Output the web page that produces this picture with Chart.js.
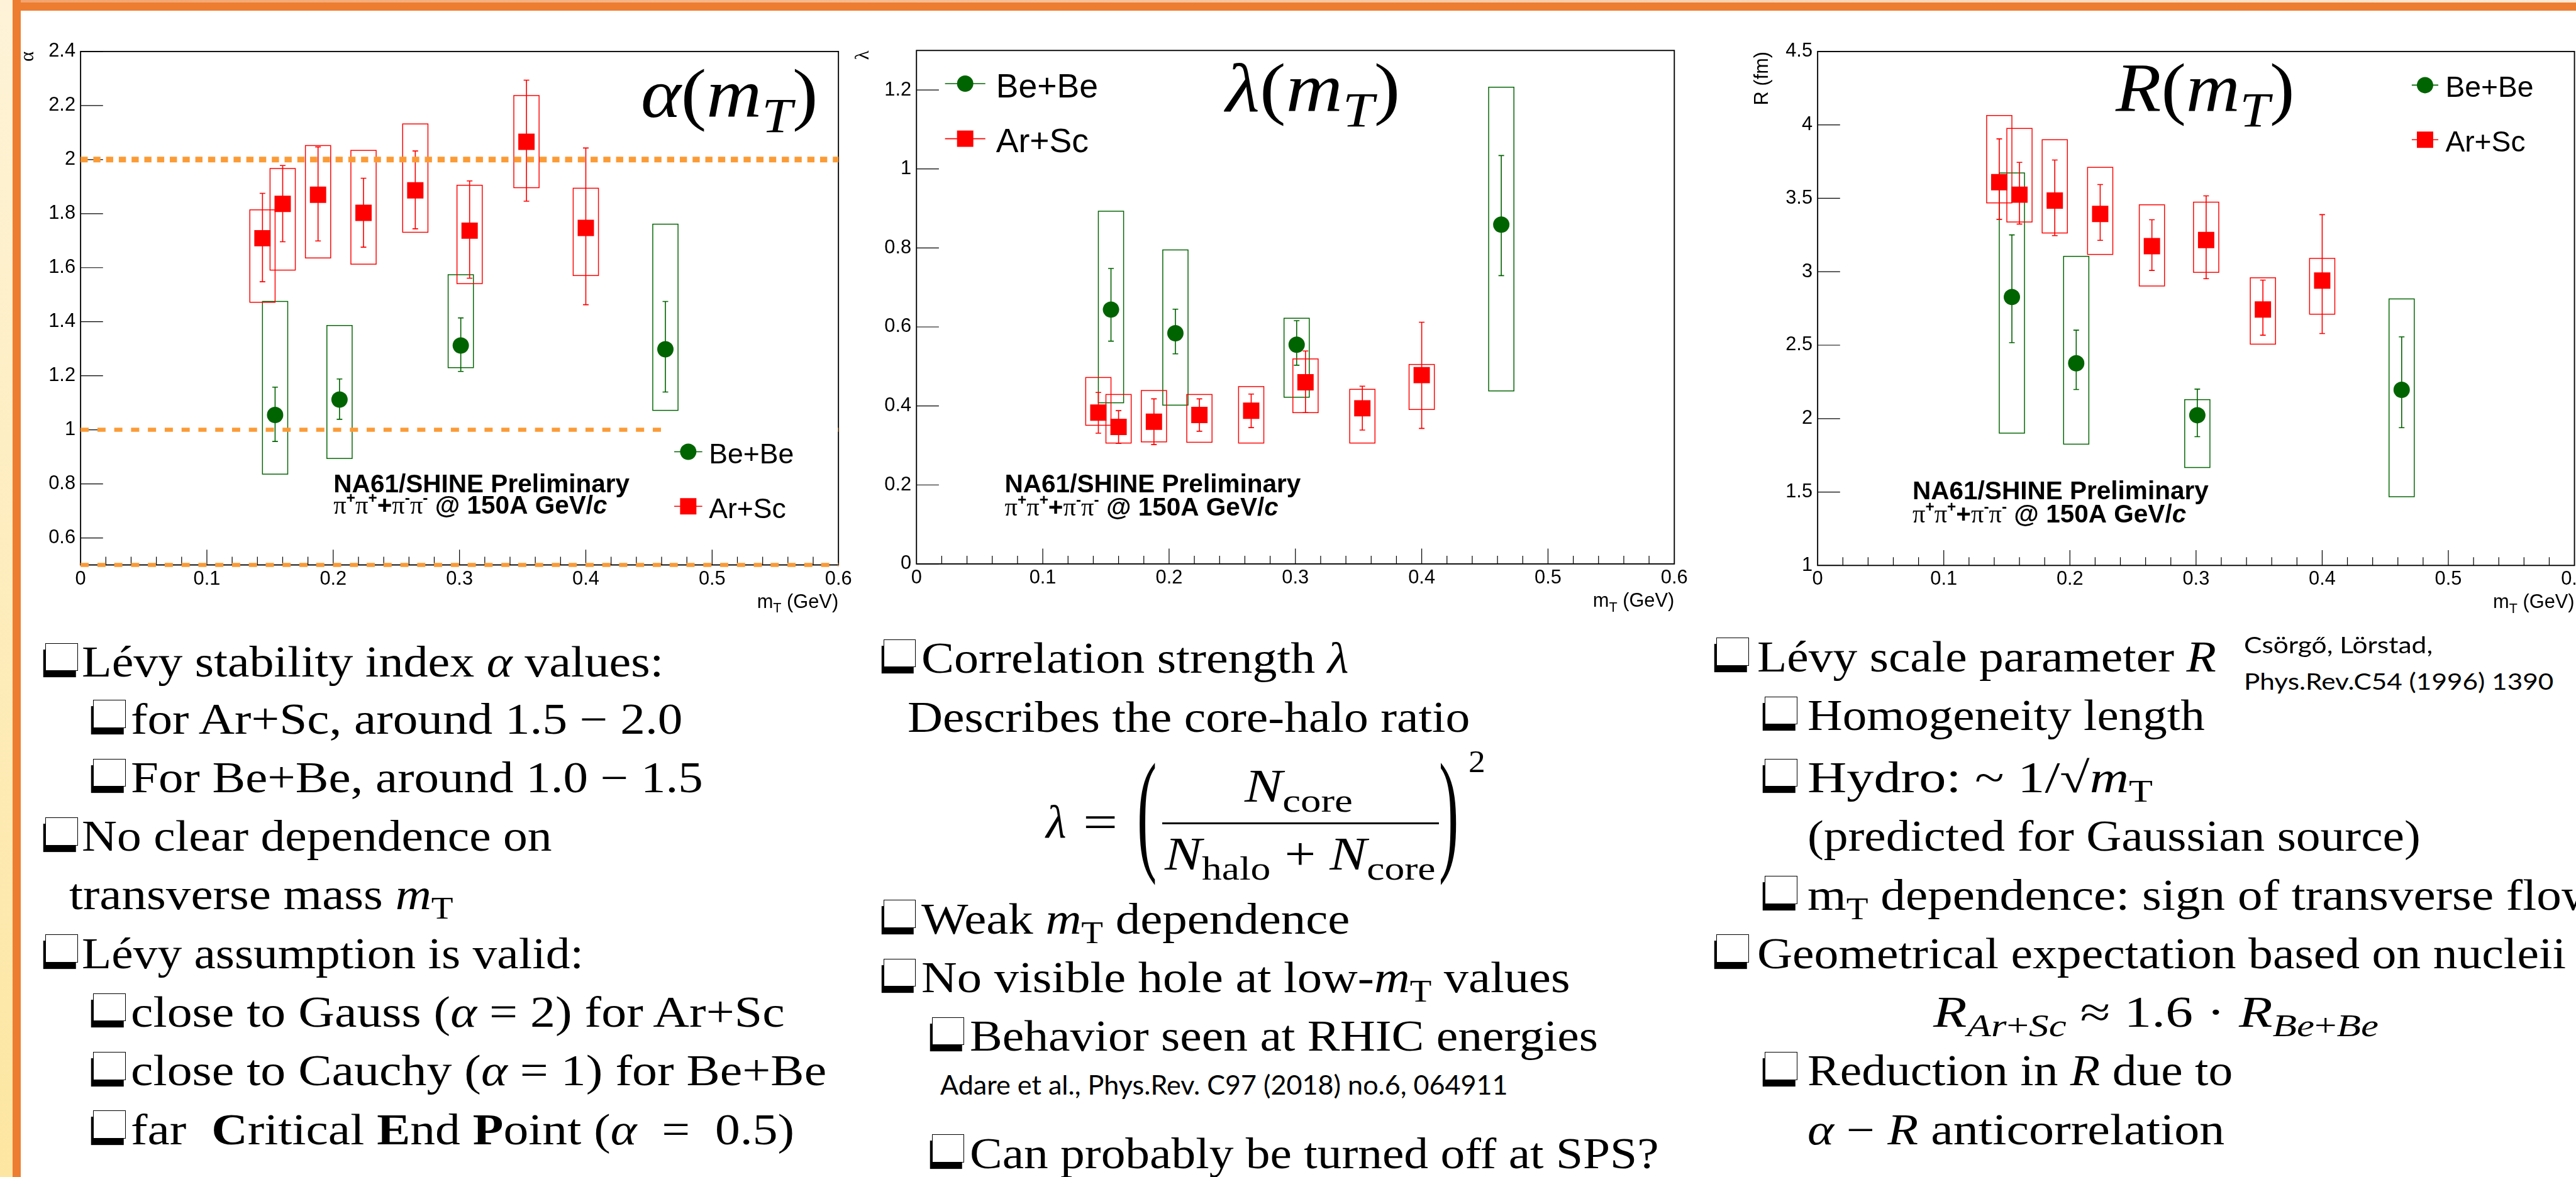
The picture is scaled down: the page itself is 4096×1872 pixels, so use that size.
<!DOCTYPE html>
<html>
<head>
<meta charset="utf-8">
<title>Lévy parameters vs mT</title>
<script src="https://cdn.jsdelivr.net/npm/chart.js@4.4.1/dist/chart.umd.min.js"></script>
<style>
  html, body { margin: 0; padding: 0; background: #fff; overflow: hidden; }
  #slide { position: relative; width: 4096px; height: 1872px; overflow: hidden; background: #fff; }
  #slide canvas { position: absolute; }
  .deco { position: absolute; }
  .t { position: absolute; white-space: nowrap; line-height: 1; color: #000;
       font-family: "Liberation Serif", "Times New Roman", serif; transform-origin: 0 0; }
  .t sub { font-size: 0.72em; vertical-align: -0.3em; line-height: 0; }
  .t .bl { display: inline-block; width: 0; height: 0; vertical-align: baseline; }
  .t.cite { font-family: Lato, "Noto Sans", sans-serif; }
  .box { position: absolute; box-sizing: border-box; background: #fff; border: 1px solid #000; }
  .rule { position: absolute; background: #000; }
</style>
</head>
<body>
<div id="slide"></div>
<script>
const S = 4096 / 5051;          // reference pixels -> page pixels
const px = v => v * S;

// ---------- data ----------
const mT_BeBe = [0.154, 0.205, 0.301, 0.463];
const mT_ArSc = [0.144, 0.160, 0.188, 0.224, 0.265, 0.308, 0.353, 0.400];
const series_names = ['Be+Be', 'Ar+Sc'];

const alpha_BeBe = [1.055, 1.112, 1.312, 1.298];
const alpha_BeBe_stat = [[0.957, 1.158], [1.039, 1.188], [1.216, 1.414], [1.140, 1.475]];
const alpha_BeBe_sys = [[0.836, 1.475], [0.894, 1.386], [1.230, 1.574], [1.072, 1.761]];
const alpha_ArSc = [1.709, 1.836, 1.870, 1.803, 1.886, 1.737, 2.066, 1.747];
const alpha_ArSc_stat = [[1.548, 1.875], [1.696, 1.978], [1.699, 2.047], [1.676, 1.931],
                         [1.744, 2.032], [1.561, 1.921], [1.846, 2.294], [1.463, 2.043]];
const alpha_ArSc_sys = [[1.472, 1.814], [1.591, 1.967], [1.636, 2.052], [1.613, 2.034],
                        [1.731, 2.132], [1.541, 1.905], [1.896, 2.237], [1.571, 1.894]];
const alpha_refLevels = [2, 1, 0.5];   // Gauss, Cauchy, critical end point

const lambda_BeBe = [0.644, 0.584, 0.555, 0.859];
const lambda_BeBe_stat = [[0.564, 0.748], [0.532, 0.645], [0.503, 0.616], [0.730, 1.034]];
const lambda_BeBe_sys = [[0.408, 0.893], [0.402, 0.795], [0.422, 0.622], [0.438, 1.207]];
const lambda_ArSc = [0.383, 0.347, 0.360, 0.377, 0.388, 0.460, 0.394, 0.478];
const lambda_ArSc_stat = [[0.331, 0.434], [0.305, 0.388], [0.302, 0.418], [0.336, 0.418],
                          [0.345, 0.430], [0.383, 0.539], [0.339, 0.450], [0.343, 0.612]];
const lambda_ArSc_sys = [[0.351, 0.472], [0.306, 0.429], [0.309, 0.439], [0.308, 0.429],
                         [0.306, 0.449], [0.383, 0.519], [0.306, 0.442], [0.391, 0.505]];

const R_BeBe = [2.828, 2.377, 2.023, 2.196];
const R_BeBe_stat = [[2.517, 3.251], [2.198, 2.602], [1.877, 2.201], [1.938, 2.557]];
const R_BeBe_sys = [[1.901, 3.673], [1.826, 3.105], [1.667, 2.129], [1.468, 2.815]];
const R_ArSc = [3.610, 3.525, 3.485, 3.394, 3.174, 3.216, 2.743, 2.940];
const R_ArSc_stat = [[3.357, 3.905], [3.325, 3.745], [3.246, 3.761], [3.214, 3.594],
                     [3.009, 3.354], [2.953, 3.517], [2.568, 2.943], [2.579, 3.389]];
const R_ArSc_sys = [[3.469, 4.064], [3.339, 3.976], [3.264, 3.899], [3.118, 3.711],
                    [2.903, 3.456], [2.996, 3.474], [2.507, 2.959], [2.711, 3.091]];

const mT_range = [0, 0.6];
const mT_ticks = [0, 0.1, 0.2, 0.3, 0.4, 0.5, 0.6];
const mT_tickLabels = ['0', '0.1', '0.2', '0.3', '0.4', '0.5', '0.6'];
const alpha_ticks = [0.6, 0.8, 1.0, 1.2, 1.4, 1.6, 1.8, 2.0, 2.2, 2.4];
const alpha_tickLabels = ['0.6', '0.8', '1', '1.2', '1.4', '1.6', '1.8', '2', '2.2', '2.4'];
const lambda_ticks = [0, 0.2, 0.4, 0.6, 0.8, 1.0, 1.2];
const lambda_tickLabels = ['0', '0.2', '0.4', '0.6', '0.8', '1', '1.2'];
const R_ticks = [1, 1.5, 2, 2.5, 3, 3.5, 4, 4.5];
const R_tickLabels = ['1', '1.5', '2', '2.5', '3', '3.5', '4', '4.5'];

// ---------- styles ----------
const GREEN = '#006400';
const RED = '#ff0000';
const ORANGE = '#fb9b36';
const SANS = '"Liberation Sans", Arial, sans-serif';
const SERIF = '"Liberation Serif", "Times New Roman", serif';
const SYS_HALF = 0.01;     // half width of the systematic boxes (GeV)

const slide = document.getElementById('slide');

function deco(x, y, w, h, bg) {
  const d = document.createElement('div');
  d.className = 'deco';
  Object.assign(d.style, { left: px(x) + 'px', top: px(y) + 'px', width: px(w) + 'px', height: px(h) + 'px', background: bg });
  slide.appendChild(d);
}
deco(0, 0, 25, 2308, 'linear-gradient(#fef3d8, #fde6a1)');
deco(25, 0, 5026, 5, 'linear-gradient(90deg, #f3a46e, #fde9d5)');
deco(25, 5, 5026, 16, '#ed7d31');
deco(25, 0, 16, 2308, '#ed7d31');

// ---------- ROOT-like panels ----------
const panels = [
  {
    plot: [158, 101, 1644, 1108], yRange: [0.5, 2.4], yTicks: alpha_ticks, yLabels: alpha_tickLabels,
    yTitle: 'α', yTitleFont: SERIF, yTitleX: 55,
    series: [[mT_BeBe, alpha_BeBe, alpha_BeBe_stat, alpha_BeBe_sys, GREEN, 'circle'],
             [mT_ArSc, alpha_ArSc, alpha_ArSc_stat, alpha_ArSc_sys, RED, 'rect']],
    legend: { line: [1322, 1377], y: [886, 993], text: 1390, size: 55, box: [1309, 828, 1632, 1060] },
    prelim: [654, 965, 1008], refLines: true
  },
  {
    plot: [1797, 99, 3283, 1106], yRange: [0, 1.3], yTicks: lambda_ticks, yLabels: lambda_tickLabels,
    yTitle: 'λ', yTitleFont: SERIF, yTitleX: 1693,
    series: [[mT_BeBe, lambda_BeBe, lambda_BeBe_stat, lambda_BeBe_sys, GREEN, 'circle'],
             [mT_ArSc, lambda_ArSc, lambda_ArSc_stat, lambda_ArSc_sys, RED, 'rect']],
    legend: { line: [1853, 1932], y: [164, 272], text: 1953, size: 66 },
    prelim: [1970, 965, 1011]
  },
  {
    plot: [3564, 101, 5048, 1109], yRange: [1, 4.5], yTicks: R_ticks, yLabels: R_tickLabels,
    yTitle: 'R (fm)', yTitleFont: SANS, yTitleX: 3456,
    series: [[mT_BeBe, R_BeBe, R_BeBe_stat, R_BeBe_sys, GREEN, 'circle'],
             [mT_ArSc, R_ArSc, R_ArSc_stat, R_ArSc_sys, RED, 'rect']],
    legend: { line: [4729, 4781], y: [167, 274], text: 4795, size: 57 },
    prelim: [3750, 979, 1025]
  }
];

const prelimLine1 = [{ t: 'NA61/SHINE Preliminary', w: 'bold' }];
const sup = (t) => ({ t, w: 'bold', s: 0.6, rise: 0.42 });
const prelimLine2 = [
  { t: 'π', f: SERIF }, sup('+'), { t: 'π', f: SERIF }, sup('+'), { t: '+', w: 'bold' },
  { t: 'π', f: SERIF }, sup('-'), { t: 'π', f: SERIF }, sup('-'),
  { t: ' @ 150A GeV/', w: 'bold' }, { t: 'c', w: 'bold', st: 'italic' }
];
const xTitle = [{ t: 'm' }, { t: 'T', s: 0.7, rise: -0.25 }, { t: ' (GeV)' }];

function rich(ctx, x, y, segs, size, draw = true) {
  let w = 0;
  segs.forEach(g => {
    ctx.font = `${g.st || 'normal'} ${g.w || 'normal'} ${size * (g.s || 1)}px ${g.f || SANS}`;
    if (draw) ctx.fillText(g.t, x + w, y - (g.rise || 0) * size);
    w += ctx.measureText(g.t).width;
  });
  return w;
}

function marker(ctx, cx, cy, shape, color) {
  ctx.fillStyle = color;
  const h = px(16);
  if (shape === 'circle') {
    ctx.beginPath(); ctx.arc(cx, cy, h, 0, 2 * Math.PI); ctx.fill();
  } else {
    ctx.fillRect(cx - h, cy - h, 2 * h, 2 * h);
  }
}

function drawErrors(ctx, x, y, s) {
  const [xs, , stat, sys, color] = s;
  ctx.strokeStyle = color;
  ctx.lineWidth = px(1.8);
  xs.forEach((m, i) => {
    const x0 = x.getPixelForValue(m - SYS_HALF), x1 = x.getPixelForValue(m + SYS_HALF);
    const y0 = y.getPixelForValue(sys[i][0]), y1 = y.getPixelForValue(sys[i][1]);
    ctx.strokeRect(x0, y1, x1 - x0, y0 - y1);
  });
  ctx.lineWidth = px(2);
  ctx.beginPath();
  const cap = px(5.5);
  xs.forEach((m, i) => {
    const cx = x.getPixelForValue(m);
    const lo = y.getPixelForValue(stat[i][0]), hi = y.getPixelForValue(stat[i][1]);
    ctx.moveTo(cx, lo); ctx.lineTo(cx, hi);
    ctx.moveTo(cx - cap, lo); ctx.lineTo(cx + cap, lo);
    ctx.moveTo(cx - cap, hi); ctx.lineTo(cx + cap, hi);
  });
  ctx.stroke();
}

function panelPlugin(p, ox, oy) {
  const X = v => px(v) - ox, Y = v => px(v) - oy;
  return {
    id: 'rootPanel',
    beforeDatasetsDraw(chart) {
      const { ctx, chartArea: a, scales: { x, y } } = chart;
      ctx.save();
      ctx.strokeStyle = '#000';
      ctx.lineWidth = px(1.5);
      ctx.beginPath();
      p.yTicks.forEach(v => {
        const py = y.getPixelForValue(v);
        ctx.moveTo(a.left, py); ctx.lineTo(a.left + px(44), py);
      });
      for (let i = 1; i < 30; i++) {
        const qx = x.getPixelForValue(i * 0.02);
        ctx.moveTo(qx, a.bottom); ctx.lineTo(qx, a.bottom - px(i % 5 ? 16 : 30));
      }
      ctx.stroke();
      ctx.lineWidth = px(2.3);
      ctx.strokeRect(a.left, a.top, a.right - a.left, a.bottom - a.top);
      p.series.forEach(s => drawErrors(ctx, x, y, s));
      ctx.restore();
    },
    afterDatasetsDraw(chart) {
      const { ctx, chartArea: a } = chart;
      const lg = p.legend;
      ctx.save();
      if (lg.box) {
        ctx.fillStyle = '#fff';
        ctx.fillRect(X(lg.box[0]), Y(lg.box[1]), px(lg.box[2] - lg.box[0]), px(lg.box[3] - lg.box[1]));
      }
      p.series.forEach((s, k) => {
        const yy = Y(lg.y[k]);
        ctx.strokeStyle = s[4]; ctx.lineWidth = px(2);
        ctx.beginPath(); ctx.moveTo(X(lg.line[0]), yy); ctx.lineTo(X(lg.line[1]), yy); ctx.stroke();
        marker(ctx, (X(lg.line[0]) + X(lg.line[1])) / 2, yy, s[5], s[4]);
        ctx.fillStyle = '#000';
        ctx.textAlign = 'left'; ctx.textBaseline = 'alphabetic';
        ctx.font = `${px(lg.size)}px ${SANS}`;
        ctx.fillText(series_names[k], X(lg.text), Y(lg.y[k] + 3 + 0.358 * lg.size));
      });
      ctx.fillStyle = '#000';
      ctx.textAlign = 'left'; ctx.textBaseline = 'alphabetic';
      rich(ctx, X(p.prelim[0]), Y(p.prelim[1]), prelimLine1, px(50));
      rich(ctx, X(p.prelim[0]), Y(p.prelim[2]), prelimLine2, px(50));
      // axis titles
      const tw = rich(ctx, 0, 0, xTitle, px(38), false);
      rich(ctx, a.right - tw, a.bottom + px(84), xTitle, px(38));
      ctx.translate(X(p.yTitleX), a.top);
      ctx.rotate(-Math.PI / 2);
      ctx.textAlign = 'right'; ctx.textBaseline = 'middle';
      ctx.font = `${px(38)}px ${p.yTitleFont}`;
      ctx.fillText(p.yTitle, 0, 0);
      ctx.restore();
    }
  };
}

function makePanel(p) {
  const [L, T, R, B] = p.plot.map(px);
  const cl = Math.round(L - 140), ct = Math.round(T - 60);
  const mL = L - cl, mT = T - ct;
  const cw = Math.round(R - L + mL + 60), ch = Math.round(B - T + mT + 110);
  const padR = cw - mL - (R - L), padB = ch - mT - (B - T);
  const canvas = document.createElement('canvas');
  canvas.width = cw; canvas.height = ch;
  Object.assign(canvas.style, { left: cl + 'px', top: ct + 'px', width: cw + 'px', height: ch + 'px' });
  slide.appendChild(canvas);

  const datasets = p.series.map(s => ({
    data: s[0].map((x, i) => ({ x, y: s[1][i] })),
    pointStyle: s[5],
    pointRadius: s[5] === 'rect' ? px(16) * Math.SQRT2 : px(16),
    backgroundColor: s[4], borderWidth: 0, order: 1
  }));
  if (p.refLines) {
    const ref = (lvl, w, dash) => ({
      type: 'line', showLine: true, clip: false, order: 0,
      data: mT_range.map(x => ({ x, y: lvl })),
      borderColor: ORANGE, borderWidth: px(w), borderDash: dash.map(px),
      borderCapStyle: 'butt', pointRadius: 0
    });
    datasets.push(ref(alpha_refLevels[0], 11, [14, 11]));
    datasets.push(ref(alpha_refLevels[1], 8, [16, 17]));
    datasets.push(ref(alpha_refLevels[2], 8, [16, 17]));
  }

  const tickFont = { family: SANS, size: px(38) };
  new Chart(canvas, {
    type: 'scatter',
    data: { datasets },
    options: {
      responsive: false, animation: false, devicePixelRatio: 1, events: [],
      layout: { padding: { left: 0, top: mT, right: padR, bottom: 0 } },
      plugins: { legend: { display: false }, tooltip: { enabled: false }, title: { display: false } },
      scales: {
        x: {
          type: 'linear', min: mT_range[0], max: mT_range[1],
          grid: { display: false, drawTicks: false }, border: { display: false },
          ticks: { autoSkip: false, maxRotation: 0, minRotation: 0, padding: px(5), color: '#000', font: tickFont,
                   callback: (v, i) => mT_tickLabels[i] },
          afterBuildTicks: s => { s.ticks = mT_ticks.map(v => ({ value: v })); },
          afterFit: s => { s.height = padB; }
        },
        y: {
          type: 'linear', min: p.yRange[0], max: p.yRange[1],
          grid: { display: false, drawTicks: false }, border: { display: false },
          ticks: { autoSkip: false, padding: px(10), color: '#000', font: tickFont,
                   callback: (v, i) => p.yLabels[i] },
          afterBuildTicks: s => { s.ticks = p.yTicks.map(v => ({ value: v })); },
          afterFit: s => { s.width = mL; }
        }
      }
    },
    plugins: [panelPlugin(p, cl, ct)]
  });
}
panels.forEach(makePanel);

// ---------- slide text ----------
function put(x, base, html, size, o = {}) {
  const el = document.createElement('div');
  el.className = 't' + (o.cls ? ' ' + o.cls : '');
  el.style.left = px(x) + 'px';
  el.style.fontSize = px(size) + 'px';
  el.innerHTML = html + '<span class="bl"></span>';
  slide.appendChild(el);
  const k = o.w ? px(o.w) / el.getBoundingClientRect().width : (o.k || 1);
  el.style.top = (px(base) - el.querySelector('.bl').offsetTop) + 'px';
  if (k !== 1) el.style.transform = `scaleX(${k})`;
  return el;
}
function checkbox(x, base) {
  const b = document.createElement('div');
  b.className = 'box';
  Object.assign(b.style, {
    left: px(x + 4) + 'px', top: px(base - 66) + 'px', width: px(64) + 'px', height: px(55) + 'px',
    boxShadow: `${-px(4)}px ${px(12.5)}px 0 0 #000`
  });
  slide.appendChild(b);
}
function paren(ch, x, yTop, yBot) {
  const f = px(80);
  const el = document.createElement('div');
  el.className = 't';
  el.style.fontSize = f + 'px';
  el.innerHTML = ch + '<span class="bl"></span>';
  slide.appendChild(el);
  const gTop = el.querySelector('.bl').offsetTop - 0.693 * f;
  const k = px(yBot - yTop) / (0.909 * f);
  el.style.left = px(x) + 'px';
  el.style.top = (px(yTop) - gTop) + 'px';
  el.style.transformOrigin = `0 ${gTop}px`;
  el.style.transform = `scale(1.45, ${k})`;
}
const FS = 85, K_TXT = 1.15;
const txt = (x, base, html, w) => put(x, base, html, FS, w ? { w } : { k: K_TXT });
const mT = '<i>m</i><sub>T</sub>';

// panel titles
put(1257, 229, '<i>α</i>(<i>m</i><sub><i>T</i></sub>)', 135, { w: 347 });
put(2403, 218, '<i>λ</i>(<i>m</i><sub><i>T</i></sub>)', 135, { w: 342 });
put(4148, 218, '<i>R</i>(<i>m</i><sub><i>T</i></sub>)', 135, { w: 351 });

// left column
checkbox(85, 1327); txt(160, 1327, 'Lévy stability index <i>α</i> values:', 1141);
checkbox(179, 1439); txt(257, 1439, 'for Ar+Sc, around 1.5 − 2.0', 1082);
checkbox(179, 1554); txt(257, 1554, 'For Be+Be, around 1.0 − 1.5', 1122);
checkbox(85, 1669); txt(160, 1669, 'No clear dependence on', 922);
txt(136, 1783, 'transverse mass ' + mT, 753);
checkbox(85, 1899); txt(160, 1899, 'Lévy assumption is valid:', 984);
checkbox(179, 2014); txt(257, 2014, 'close to Gauss (<i>α</i> = 2) for Ar+Sc', 1282);
checkbox(179, 2129); txt(257, 2129, 'close to Cauchy (<i>α</i> = 1) for Be+Be', 1364);
checkbox(179, 2244); txt(257, 2244, 'far&nbsp; <b>C</b>ritical <b>E</b>nd <b>P</b>oint (<i>α</i> &nbsp;= &nbsp;0.5)', 1301);

// middle column
checkbox(1728, 1320); txt(1807, 1320, 'Correlation strength <i>λ</i>', 838);
txt(1780, 1435, 'Describes the core-halo ratio', 1103);
put(2051, 1642, '<i>λ</i>', 92);
put(2124, 1642, '=', 92, { w: 68 });
paren('(', 2230, 1496, 1737);
put(2441, 1572, '<i>N</i><sub>core</sub>', 92, { w: 212 });
const bar = document.createElement('div');
bar.className = 'rule';
Object.assign(bar.style, { left: px(2279) + 'px', top: px(1613) + 'px', width: px(542) + 'px', height: px(4) + 'px' });
slide.appendChild(bar);
put(2284, 1705, '<i>N</i><sub>halo</sub> + <i>N</i><sub>core</sub>', 92, { w: 531 });
paren(')', 2821, 1496, 1737);
put(2880, 1514, '2', 62, { w: 33 });
checkbox(1728, 1831); txt(1807, 1831, 'Weak ' + mT + ' dependence', 840);
checkbox(1728, 1946); txt(1807, 1946, 'No visible hole at low-' + mT + ' values', 1272);
checkbox(1823, 2061); txt(1901, 2061, 'Behavior seen at RHIC energies', 1232);
put(1843, 2147, 'Adare et al., Phys.Rev. C97 (2018) no.6, 064911', 52, { cls: 'cite', w: 1113 });
checkbox(1823, 2291); txt(1901, 2291, 'Can probably be turned off at SPS?', 1351);

// right column
checkbox(3361, 1317); txt(3445, 1317, 'Lévy scale parameter <i>R</i>', 900);
put(4400, 1281, 'Csörgő, Lörstad,', 46, { cls: 'cite', w: 370 });
put(4400, 1353, 'Phys.Rev.C54 (1996) 1390', 46, { cls: 'cite', w: 607 });
checkbox(3456, 1432); txt(3544, 1432, 'Homogeneity length', 779);
checkbox(3456, 1554); txt(3544, 1554, 'Hydro: ~ 1/√' + mT, 677);
txt(3544, 1669, '(predicted for Gaussian source)', 1202);
checkbox(3456, 1784); txt(3544, 1784, 'm<sub>T</sub> dependence: sign of transverse flow');
checkbox(3361, 1899); txt(3445, 1899, 'Geometrical expectation based on nucleii', 1586);
txt(3791, 2014, '<i>R</i><sub><i>Ar</i>+<i>Sc</i></sub> ≈ 1.6 · <i>R</i><sub><i>Be</i>+<i>Be</i></sub>', 873);
checkbox(3456, 2129); txt(3544, 2129, 'Reduction in <i>R</i> due to', 834);
txt(3544, 2244, '<i>α</i> − <i>R</i> anticorrelation', 818);
</script>
</body>
</html>
